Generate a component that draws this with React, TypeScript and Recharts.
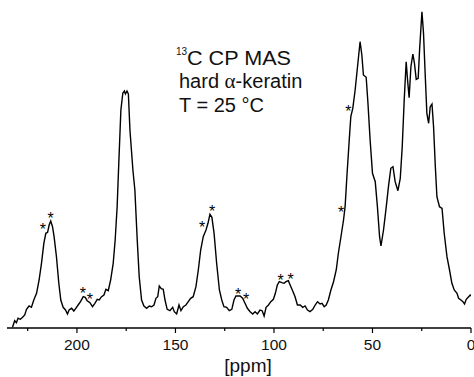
import React from "react";
import { ComposedChart, Line, Scatter, XAxis, YAxis } from "recharts";

// Chemical shift (ppm) and intensity (arbitrary units)
const ppm = [
  232.7, 231.6, 230.7, 229.9, 228.7, 227.6, 226.5, 225.6, 224.3, 223.1, 221.9, 220.5, 219.2, 218.0, 216.8, 215.8,
  214.9, 214.1, 213.3, 212.4, 211.6, 210.4, 209.2, 208.2, 207.0, 205.8, 204.8, 204.0, 202.7, 201.6, 200.6, 199.4,
  198.2, 196.8, 195.8, 194.8, 193.4, 192.1, 190.9, 189.7, 188.7, 187.5, 186.3, 185.3, 184.1, 182.9, 181.6, 180.6,
  179.6, 178.7, 177.7, 176.7, 175.9, 175.4, 174.6, 173.9, 173.1, 171.6, 170.6, 169.4, 168.4, 167.2, 166.0, 164.6,
  163.3, 162.1, 160.9, 159.9, 159.0, 158.2, 157.2, 156.2, 155.3, 154.2, 152.8, 151.4, 150.6, 149.4, 148.2, 147.2,
  146.0, 144.7, 143.5, 142.3, 141.0, 139.6, 138.4, 137.2, 135.9, 134.5, 133.5, 132.5, 131.5, 130.4, 129.1, 127.7,
  126.5, 125.4, 124.0, 122.7, 121.4, 120.3, 119.3, 117.9, 117.2, 115.9, 114.7, 113.5, 112.1, 110.8, 109.6, 108.4,
  107.1, 106.0, 105.0, 104.0, 102.8, 101.6, 100.3, 99.3, 98.3, 97.3, 96.0, 94.9, 93.9, 92.7, 91.8, 90.7,
  89.3, 88.1, 86.7, 85.4, 84.2, 83.0, 81.7, 80.3, 79.1, 77.9, 76.6, 75.6, 74.5, 73.5, 72.4, 71.1,
  69.8, 68.4, 67.3, 66.1, 64.7, 63.9, 63.0, 61.8, 61.0, 60.0, 58.8, 57.6, 56.3, 55.4, 54.6, 53.2,
  52.3, 51.2, 50.0, 48.6, 47.5, 46.4, 45.7, 44.4, 43.0, 41.9, 40.7, 39.6, 38.5, 37.1, 35.9, 34.9,
  33.9, 32.9, 32.2, 31.4, 30.5, 29.5, 28.7, 27.8, 26.8, 26.1, 24.9, 24.1, 23.2, 22.4, 21.5, 20.7,
  19.8, 19.0, 18.1, 17.3, 16.0, 14.7, 13.6, 12.2, 10.9, 9.7, 8.5, 7.1, 6.3, 5.1, 4.1, 3.3,
  2.4, 1.2, 0.4, 0.0,
];
const intensity = [
  0.7, 7.3, 5.3, 9.7, 8.7, 10.7, 13, 18.7, 22, 20.7, 28, 34.7, 48, 64.7, 84.7, 94.7,
  95.7, 103, 107, 101.3, 91.3, 71.3, 44.7, 28, 20.7, 18, 14, 18, 19.7, 17, 19.7, 23,
  26.3, 31.3, 30.7, 27.3, 25.3, 21.3, 24.7, 28.7, 28, 31.3, 33, 38.7, 37.3, 48, 64.7, 88,
  121.3, 168, 218, 235, 237, 234, 237, 234, 198, 158, 138, 88, 51.3, 28, 22, 19.7,
  22, 21.3, 23, 29.7, 31.3, 42, 39.3, 38.7, 28, 18.7, 17.3, 20.7, 16.3, 14, 23, 17.3,
  21.3, 23, 26.3, 29.7, 31.3, 41.3, 58, 78, 91.3, 98, 104.7, 113.7, 110.7, 94.7, 64.7, 38,
  28, 21.3, 20.7, 17.3, 18.7, 28, 32, 32, 32, 29.7, 24.7, 19.7, 16.3, 14, 16.3, 14,
  18, 17.3, 12, 20.7, 23, 26.3, 28.7, 34.7, 43, 46.3, 45.3, 44.7, 46.3, 47.3, 43, 38,
  31.3, 23, 23, 20.7, 22, 18, 16.3, 18.7, 23, 26.3, 24, 24.7, 21.3, 23, 28, 38,
  46, 58, 75, 90, 108, 121.3, 151.3, 188, 211.3, 219.7, 238, 261.3, 286.3, 273, 253, 250.7,
  224.7, 188, 154.7, 146.3, 121.3, 91.3, 82, 98, 121.3, 141.3, 159.7, 161.3, 146.3, 137.3, 149.7, 181.3,
  228, 266.3, 248, 230.3, 261.3, 274, 264.7, 248.7, 249.7, 278, 316.3, 294.7, 251.3, 214.7, 204.7, 221.3,
  224, 201.3, 161.3, 131.3, 121.3, 119.7, 94.7, 71.3, 58, 44.7, 38, 34.7, 29.7, 28, 26.3, 24,
  28.7, 31.3, 33, 32,
];
// Spinning sideband markers (*)
const starPpm = [217.3, 213.3, 197.0, 193.5, 136.5, 131.4, 118.2, 114.1, 96.6, 91.5, 65.9, 62.3];
const starIntensity = [103, 114, 39, 33, 105, 121, 38, 33, 52, 53, 120, 221];
const xTicks = [225, 200, 175, 150, 125, 100, 75, 50, 25, 0];

const spectrum = ppm.map((p, i) => ({ ppm: p, v: intensity[i] }));
const stars = starPpm.map((p, i) => ({ ppm: p, v: starIntensity[i] }));

const FONT = '"Liberation Sans", Arial, sans-serif';

const Tick = (props: any) => {
  const { x, y, payload } = props;
  const major = payload.value % 50 === 0;
  return (
    <g>
      <line x1={x} y1={y} x2={x} y2={y + (major ? 5 : 3)} stroke="#000" strokeWidth={1.2} />
      {major && (
        <text x={x} y={y + 22} textAnchor="middle" fontSize={15.5} fontFamily={FONT} fill="#111">
          {payload.value}
        </text>
      )}
    </g>
  );
};

const Star = (props: any) => {
  const { cx, cy } = props;
  return (
    <text
      x={cx}
      y={cy + 9.5}
      textAnchor="middle"
      fontSize={16}
      fontFamily={FONT}
      fill="#000"
      stroke="none"
      opacity={0.99}
    >
      *
    </text>
  );
};

export default function App() {
  return (
    <div style={{ position: "relative", width: 474, height: 377, background: "#fff" }}>
      <style>{"body{margin:0}"}</style>
      <ComposedChart width={474} height={377} margin={{ top: 10, right: 3, left: 7, bottom: 0 }}>
        <XAxis
          dataKey="ppm"
          type="number"
          domain={[0, 235.5]}
          reversed
          ticks={xTicks}
          interval={0}
          tickSize={0}
          tickMargin={0}
          tickLine={false}
          tick={<Tick />}
          axisLine={{ stroke: "#000", strokeWidth: 1.3 }}
          height={49}
          allowDataOverflow
          label={{
            content: () => (
              <text x={248} y={372} textAnchor="middle" fontSize={19} fontFamily={FONT} fill="#111">
                [ppm]
              </text>
            ),
          }}
        />
        <YAxis dataKey="v" type="number" domain={[0, 318]} hide allowDataOverflow />
        <Line
          data={spectrum}
          dataKey="v"
          type="linear"
          stroke="#000"
          strokeWidth={1.4}
          dot={false}
          activeDot={false}
          isAnimationActive={false}
        />
        <Scatter data={stars} dataKey="v" fill="#000" shape={<Star />} isAnimationActive={false} />
      </ComposedChart>
      <svg width={474} height={377} style={{ position: "absolute", left: 0, top: 0, pointerEvents: "none" }}>
        <g fontFamily={FONT} fill="#111">
          <text x={176} y={55} fontSize={10}>13</text>
          <text x={187} y={65} fontSize={20} textLength={104} lengthAdjust="spacingAndGlyphs">C CP MAS</text>
          <text x={179} y={88} fontSize={20}>
            hard <tspan fontFamily='"Liberation Serif", "Times New Roman", serif' fontSize={21}>α</tspan>-keratin
          </text>
          <text x={179} y={112} fontSize={20}>T = 25 °C</text>
        </g>
      </svg>
    </div>
  );
}
